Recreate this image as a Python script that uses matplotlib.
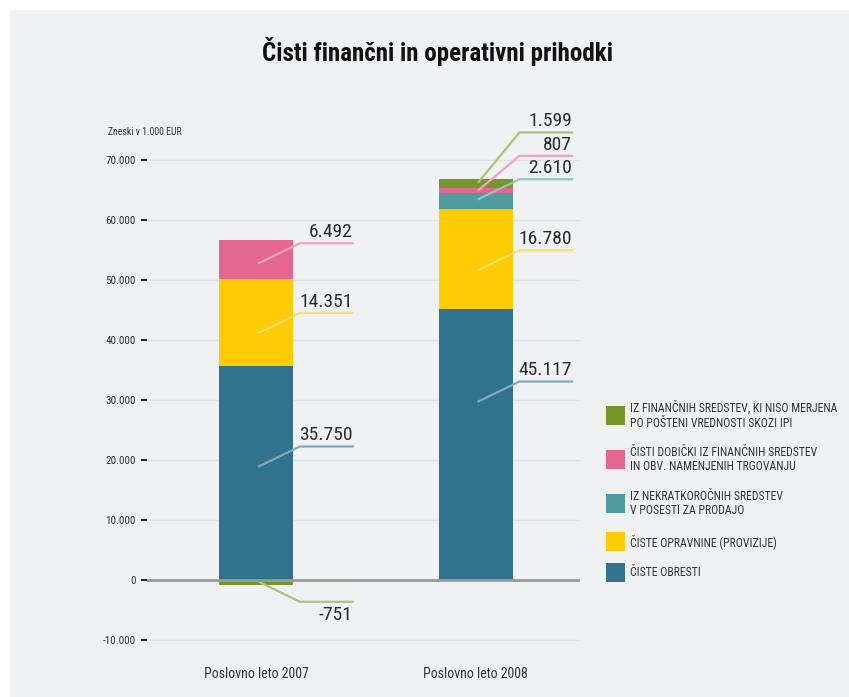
import matplotlib.pyplot as plt
from matplotlib.patches import Rectangle
from matplotlib.ticker import FuncFormatter
from matplotlib import colors as mcolors
from matplotlib import font_manager
import numpy as np

imena = {f.name for f in font_manager.fontManager.ttflist}
pisava = 'Roboto Condensed' if 'Roboto Condensed' in imena else 'Liberation Sans'
plt.rcParams['font.family'] = [pisava, 'DejaVu Sans']

# Podatki (v 1.000 EUR)
kategorije = ['Poslovno leto 2007', 'Poslovno leto 2008']
obresti = [35750, 45117]
opravnine = [14351, 16780]
nekratkorocna = [0, 2610]
dobicki = [6492, 807]
ipi = [-751, 1599]

serije = [obresti, opravnine, nekratkorocna, dobicki, ipi]
barve = ['#31728f', '#ffcb05', '#4f9a9b', '#e36791', '#76962a']
legenda = ['ČISTE OBRESTI',
           'ČISTE OPRAVNINE (PROVIZIJE)',
           'IZ NEKRATKOROČNIH SREDSTEV\nV POSESTI ZA PRODAJO',
           'ČISTI DOBIČKI IZ FINANČNIH SREDSTEV\nIN OBV. NAMENJENIH TRGOVANJU',
           'IZ FINANČNIH SREDSTEV, KI NISO MERJENA\nPO POŠTENI VREDNOSTI SKOZI IPI']

# kje znotraj segmenta se zacne crta do oznake (delez segmenta)
sidra = [[0.53, 0.66], [0.38, 0.39], [0.5, 0.61], [0.42, 0.61], [0.44, 0.64]]

W, H = 849, 697
fig = plt.figure(figsize=(W / 100, H / 100), dpi=100)
fig.patch.set_facecolor('white')
fig.add_artist(Rectangle((10 / W, 0), 1, (H - 10) / H, transform=fig.transFigure,
                         facecolor='#f0f1f3', edgecolor='none', zorder=0))

ax = fig.add_axes([147 / W, (H - 643) / H, 433 / W, 495 / H])
ax.set_facecolor('none')

x = np.arange(len(kategorije))
sirina = 0.337
pos_dno = np.zeros(len(x))
neg_dno = np.zeros(len(x))
segmenti = []
for vals, c in zip(serije, barve):
    vals = np.array(vals, dtype=float)
    dno = np.where(vals >= 0, pos_dno, neg_dno)
    ax.bar(x, vals, sirina, bottom=dno, color=c, zorder=3)
    segmenti.append(dno.copy())
    pos_dno = pos_dno + np.where(vals > 0, vals, 0)
    neg_dno = neg_dno + np.where(vals < 0, vals, 0)

# oznake z vodilnimi crtami
dvig = 3300
for j in range(len(x)):
    zadnji = None
    for i, (vals, c) in enumerate(zip(serije, barve)):
        v = vals[j]
        if v == 0:
            continue
        y0 = segmenti[i][j] + v * sidra[i][j]
        if v > 0:
            y1 = y0 + dvig
            if zadnji is not None and y1 < zadnji + 3900 and i >= 2:
                y1 = zadnji + 3900
            zadnji = y1
        else:
            y1 = y0 - dvig
        svetla = 0.6 * np.array(mcolors.to_rgb(c)) + 0.4
        ax.plot([x[j] + 0.014, x[j] + 0.2, x[j] + 0.44], [y0, y1, y1],
                color=svetla, lw=1.6, zorder=4, clip_on=False)
        besedilo = f'{v:,}'.replace(',', '.')
        ax.annotate(besedilo, (x[j] + 0.44, y1),
                    xytext=(0, 1.5 if v > 0 else -3), textcoords='offset points',
                    ha='right', va='bottom' if v > 0 else 'top',
                    fontsize=14, color='#2a2a2a', zorder=5,
                    annotation_clip=False)

ax.axhline(0, color='#9a9a9a', lw=2, zorder=4)
ax.set_xlim(-0.497, 1.476)
ax.set_ylim(-10500, 72000)
ax.set_yticks(np.arange(-10000, 70001, 10000))
ax.yaxis.set_major_formatter(FuncFormatter(lambda v, p: f'{int(v):,}'.replace(',', '.')))
ax.grid(axis='y', color='#dfe0e2', lw=1, zorder=1)
ax.tick_params(axis='y', length=4, width=1.4, color='#222222', labelsize=8,
               labelcolor='#333333', pad=4)
ax.set_xticks(x)
ax.set_xticklabels(kategorije, fontsize=10, color='#333333')
ax.tick_params(axis='x', length=0, pad=17)
for s in ax.spines.values():
    s.set_visible(False)

fig.text(437.5 / W, 1 - 52 / H, 'Čisti finančni in operativni prihodki',
         ha='center', va='center', fontsize=18, fontweight='bold', color='#111111')
fig.text(108 / W, 1 - 132 / H, 'Zneski v 1.000 EUR', ha='left', va='center',
         fontsize=7, color='#333333')

# legenda
leg_y = [572.5, 541.5, 503.5, 459.5, 415.5]
for yc, c, lab in zip(leg_y, barve, legenda):
    fig.add_artist(Rectangle((606 / W, 1 - (yc + 9.5) / H), 19 / W, 19 / H,
                             transform=fig.transFigure, facecolor=c, edgecolor='none'))
    fig.text(630 / W, 1 - yc / H, lab, ha='left', va='center', fontsize=8.5,
             color='#333333', linespacing=1.2)

fig.savefig('out.png', dpi=100)
